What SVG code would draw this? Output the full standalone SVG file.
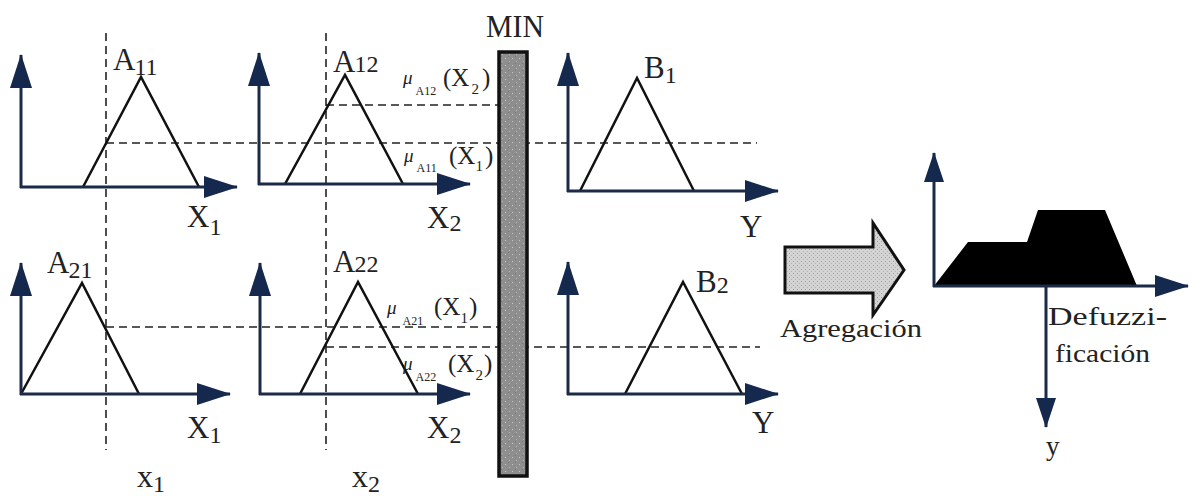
<svg xmlns="http://www.w3.org/2000/svg" width="1192" height="496" viewBox="0 0 1192 496">
<style>
.ax{stroke:#1b2a47;stroke-width:3;fill:none;marker-end:url(#ah)}
.axs{stroke:#1b2a47;stroke-width:3;fill:none;marker-end:url(#ahs)}
.tri{stroke:#111;stroke-width:2.5;fill:none;stroke-linejoin:miter}
.dash{stroke:#222;stroke-width:1.6;stroke-dasharray:8 5;fill:none}
text{font-family:"Liberation Serif","Times New Roman",serif;fill:#222}
.big{font-size:31px}
.sub{font-size:24px}
.mu{font-size:19px;font-style:italic}
.ms{font-size:12px}
.mp{font-size:25px}
.mn{font-size:15px}
.lab{font-size:25px}
</style>
<defs>
<marker id="ah" viewBox="0 0 34 22" markerWidth="34" markerHeight="22" refX="33" refY="11" orient="auto" markerUnits="userSpaceOnUse">
<path d="M0,0 L34,11 L0,22 Z" fill="#15284d"/>
</marker>
<marker id="ahs" viewBox="0 0 30 20" markerWidth="30" markerHeight="20" refX="29" refY="10" orient="auto" markerUnits="userSpaceOnUse">
<path d="M0,0 L30,10 L0,20 Z" fill="#15284d"/>
</marker>
<pattern id="speck" width="7" height="7" patternUnits="userSpaceOnUse">
<rect width="7" height="7" fill="#8e8e8e"/>
<rect x="1" y="2" width="1" height="1" fill="#c8c8c8"/>
<rect x="5" y="5" width="1" height="1" fill="#b5b5b5"/>
<rect x="4" y="0" width="1" height="1" fill="#777"/>
</pattern>
<pattern id="speck2" width="4" height="4" patternUnits="userSpaceOnUse">
<rect width="4" height="4" fill="#d4d4d4"/>
<rect x="1" y="1" width="1" height="1" fill="#9a9a9a"/>
<rect x="3" y="3" width="1" height="1" fill="#b0b0b0"/>
</pattern>
</defs>
<rect width="1192" height="496" fill="#fff"/>

<g id="connectors">
<line class="dash" x1="106" y1="33" x2="106" y2="450"/>
<line class="dash" x1="326" y1="33" x2="326" y2="450"/>
<line class="dash" x1="106" y1="143" x2="757" y2="143"/>
<line class="dash" x1="326" y1="105" x2="498" y2="105"/>
<line class="dash" x1="106" y1="327" x2="498" y2="327"/>
<line class="dash" x1="326" y1="347" x2="760" y2="347"/>
</g>

<g id="panel-a11">
<polyline class="tri" points="83,187 141,77 199,187"/>
<line class="ax" x1="21" y1="188" x2="21" y2="55"/>
<line class="ax" x1="20" y1="187" x2="237" y2="187"/>
<text class="big" x="113" y="70">A<tspan class="sub" dx="-1" dy="5">11</tspan></text>
<text class="big" x="187" y="227">X<tspan class="sub" dy="8">1</tspan></text>
</g>

<g id="panel-a12">
<polyline class="tri" points="285,184 345,75 403,184"/>
<line class="ax" x1="259" y1="185" x2="259" y2="53"/>
<line class="ax" x1="258" y1="184" x2="470" y2="184"/>
<text class="big" x="333" y="72">A<tspan class="sub" dx="-1">12</tspan></text>
<text class="big" x="427" y="228">X<tspan class="sub" dy="3">2</tspan></text>
<text x="403" y="84"><tspan class="mu">μ</tspan><tspan class="ms" dx="3" dy="11">A12</tspan><tspan class="mp" x="443" dy="-9">(X</tspan><tspan class="mn" dx="2" dy="8">2</tspan><tspan class="mp" dx="3" dy="-8">)</tspan></text>
<text x="404" y="162"><tspan class="mu">μ</tspan><tspan class="ms" dx="3" dy="10">A11</tspan><tspan class="mp" x="449" dy="-8">(X</tspan><tspan class="mn" dy="7">1</tspan><tspan class="mp" dx="2" dy="-7">)</tspan></text>
</g>

<g id="min">
<rect x="499" y="52" width="28" height="424" fill="url(#speck)" stroke="#111" stroke-width="3.5"/>
<text x="486" y="37" font-size="31" font-family="Liberation Serif, serif" textLength="58" lengthAdjust="spacingAndGlyphs">MIN</text>
</g>

<g id="panel-b1">
<polyline class="tri" points="580,191 637,78 694,191"/>
<line class="ax" x1="568" y1="192" x2="568" y2="53"/>
<line class="ax" x1="567" y1="191" x2="778" y2="191"/>
<text class="big" x="644" y="78">B<tspan class="sub" dy="5">1</tspan></text>
<text class="big" x="740" y="237">Y</text>
</g>

<g id="panel-a21">
<polyline class="tri" points="21,394 82,283 139,394"/>
<line class="ax" x1="21" y1="395" x2="21" y2="263"/>
<line class="ax" x1="20" y1="394" x2="230" y2="394"/>
<text class="big" x="47" y="273">A<tspan class="sub" dx="-1" dy="5">21</tspan></text>
<text class="big" x="187" y="438">X<tspan class="sub" dy="5">1</tspan></text>
<text x="137" y="487" font-size="32">x<tspan class="sub" dy="5">1</tspan></text>
</g>

<g id="panel-a22">
<polyline class="tri" points="300,394 358,282 418,394"/>
<line class="ax" x1="260" y1="395" x2="260" y2="263"/>
<line class="ax" x1="259" y1="394" x2="470" y2="394"/>
<text class="big" x="333" y="272">A<tspan class="sub" dx="-1">22</tspan></text>
<text class="big" x="427" y="438">X<tspan class="sub" dy="5">2</tspan></text>
<text x="352" y="487" font-size="32">x<tspan class="sub" dy="5">2</tspan></text>
<text x="387" y="314"><tspan class="mu">μ</tspan><tspan class="ms" dx="6" dy="11">A21</tspan><tspan class="mp" x="434" dy="-10">(X</tspan><tspan class="mn" dy="8">1</tspan><tspan class="mp" dx="1" dy="-8">)</tspan></text>
<text x="403" y="370"><tspan class="mu">μ</tspan><tspan class="ms" dx="3" dy="11">A22</tspan><tspan class="mp" x="448" dy="-9">(X</tspan><tspan class="mn" dx="1" dy="8">2</tspan><tspan class="mp" dx="1" dy="-8">)</tspan></text>
</g>

<g id="panel-b2">
<polyline class="tri" points="625,394 683,282 742,394"/>
<line class="ax" x1="568" y1="395" x2="568" y2="262"/>
<line class="ax" x1="567" y1="394" x2="778" y2="394"/>
<text class="big" x="696" y="292">B<tspan class="sub" dy="1">2</tspan></text>
<text class="big" x="752" y="433">Y</text>
</g>

<g id="agregacion">
<polygon points="785,247 873,247 873,223 904,270 873,315 873,293 785,293" fill="url(#speck2)" stroke="#111" stroke-width="3" stroke-linejoin="miter"/>
<text class="lab" x="780" y="337" textLength="142" lengthAdjust="spacingAndGlyphs">Agregación</text>
</g>

<g id="defuzzificacion">
<polygon points="934,286 968,242 1027,242 1038,210 1105,210 1137,286" fill="#000"/>
<line class="axs" x1="934" y1="287" x2="934" y2="153"/>
<line class="ax" x1="933" y1="286" x2="1188" y2="286"/>
<line class="axs" x1="1046" y1="286" x2="1046" y2="427"/>
<text class="lab" x="1048" y="325" textLength="119" lengthAdjust="spacingAndGlyphs">Defuzzi-</text>
<text class="lab" x="1055" y="362" textLength="95" lengthAdjust="spacingAndGlyphs">ficación</text>
<text x="1046" y="455" font-size="27">y</text>
</g>
</svg>
